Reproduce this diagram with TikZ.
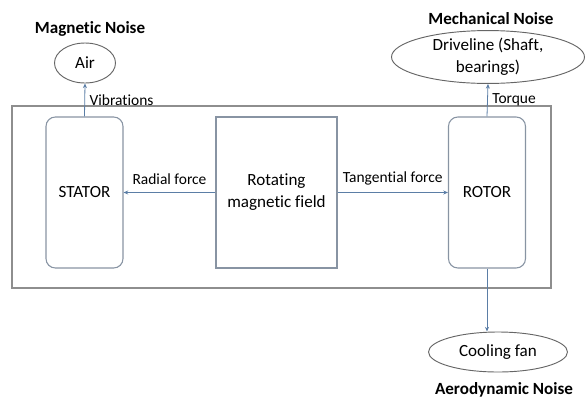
\documentclass[tikz,border=0pt]{standalone}
\usepackage{fontspec}
\setmainfont{Carlito}[Ligatures=NoCommon]
\usetikzlibrary{positioning,shapes.geometric,arrows.meta}
\definecolor{linkblue}{HTML}{5B7EA6}
\definecolor{framegray}{HTML}{8E8E8E}
\definecolor{partgray}{HTML}{8894A3}
\begin{document}
\begin{tikzpicture}[x=0.75pt, y=-0.75pt,
	part/.style = { draw=partgray, line width=0.8pt, rounded corners=7pt,
			minimum width=57.75pt, minimum height=113.25pt,
			font=\fontsize{12.8}{16.5}\selectfont },
	field/.style = { draw=partgray, line width=0.8pt,
			minimum width=90.75pt, minimum height=113.25pt,
			align=center, font=\fontsize{12.8}{16.5}\selectfont },
	medium/.style = { draw=black!60, ellipse, line width=0.7pt, inner sep=0pt,
			align=center, font=\fontsize{12.8}{16.5}\selectfont },
	noise/.style = { font=\bfseries\fontsize{12.8}{15}\selectfont },
	force/.style = { font=\fontsize{11.6}{14}\selectfont },
	link/.style = { ->, draw=linkblue, line width=0.6pt,
			>={Stealth[length=3.5pt,width=3pt]} }]

  \useasboundingbox (0,0) rectangle (586,401);
  \draw[framegray, line width=0.8pt] (12,106) rectangle (551,288);

  \node[name=stator, part] at (84.5,192.5) {STATOR};
  \node[name=field, field] at (276.5,192.5) {Rotating\\magnetic field};
  \node[name=rotor, part] at (487,192.5) {ROTOR};

  \node[name=air, medium, minimum width=45.75pt, minimum height=30pt]
	at (85,63) {Air};
  \node[name=magnoise, noise] at (90,29) {Magnetic Noise};
  \node[name=drive, medium, minimum width=144.75pt, minimum height=36.75pt]
	at (488,57) {Driveline (Shaft,\\bearings)};
  \node[name=mechnoise, noise] at (491,19) {Mechanical Noise};
  \node[name=fan, medium, minimum width=104.25pt, minimum height=30pt]
	at (498,352) {Cooling fan};
  \node[name=aeronoise, noise] at (504,390) {Aerodynamic Noise};

  \draw [link] (stator.north) -- (air.south)
	node[name=vib, force, midway, right=0pt] {Vibrations};
  \draw [link] (rotor.north) -- (drive.south)
	node[name=torque, force, midway, right=0pt] {Torque};
  \draw [link] (field.west) -- (stator.east)
	node[name=radial, force, midway, above=2pt] {Radial force};
  \draw [link] (field.east) -- (rotor.west)
	node[name=tangential, force, midway, above=2pt] {Tangential force};
  \draw [link] (rotor.south) -- (rotor.south |- fan.north);
\end{tikzpicture}
\end{document}
